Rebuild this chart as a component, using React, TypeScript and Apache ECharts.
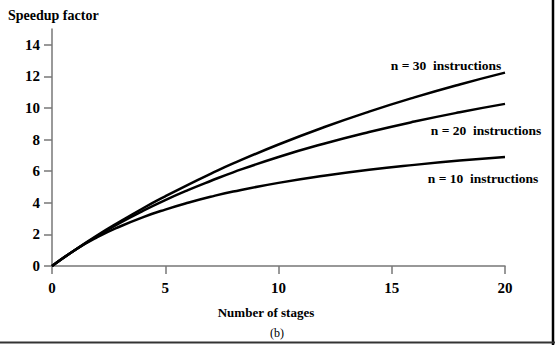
import React, { useEffect, useRef } from "react";
import * as echarts from "echarts";

const stages = [0, 1, 2, 3, 4, 5, 6, 7, 8, 10, 12, 14, 16, 18, 20];
const speedupN10 = [0, 1, 1.82, 2.5, 3.08, 3.57, 4.0, 4.38, 4.71, 5.26, 5.71, 6.09, 6.4, 6.67, 6.9];
const speedupN20 = [0, 1, 1.9, 2.73, 3.48, 4.17, 4.8, 5.38, 5.93, 6.9, 7.74, 8.48, 9.14, 9.73, 10.26];
const speedupN30 = [0, 1, 1.94, 2.81, 3.64, 4.41, 5.14, 5.83, 6.49, 7.69, 8.78, 9.77, 10.67, 11.49, 12.24];
const yTicks = [0, 2, 4, 6, 8, 10, 12, 14];
const xTicks = [0, 5, 10, 15, 20];
const seriesNames = ["n = 10  instructions", "n = 20  instructions", "n = 30  instructions"];

const FONT = "'Liberation Serif', 'DejaVu Serif', serif";

export default function App() {
  const ref = useRef<HTMLDivElement>(null);
  useEffect(() => {
    if (!ref.current) return;
    const chart = echarts.init(ref.current, null, { renderer: "svg" });
    const mk = (vals: number[], name: string) => ({
      type: "line",
      name,
      data: stages.map((s, i) => [s, vals[i]]),
      smooth: true,
      showSymbol: false,
      lineStyle: { color: "#000", width: 2.5 },
    });
    chart.setOption({
      animation: false,
      backgroundColor: "#fff",
      grid: { left: 52, right: 50, top: 29, bottom: 79 },
      xAxis: {
        type: "value",
        min: 0,
        max: 20,
        interval: 5,
        axisLine: { lineStyle: { color: "#777", width: 1.5 } },
        axisTick: { show: true, length: 8, inside: false, lineStyle: { color: "#777", width: 1.5 } },
        axisLabel: {
          margin: 14,
          fontFamily: FONT,
          fontWeight: "bold",
          fontSize: 15,
          color: "#000",
          customValues: xTicks,
        },
        splitLine: { show: false },
      },
      yAxis: {
        type: "value",
        min: 0,
        max: 15,
        axisLine: { show: true, lineStyle: { color: "#777", width: 1.5 } },
        axisTick: { show: true, length: 8, inside: false, lineStyle: { color: "#777", width: 1.5 }, customValues: yTicks },
        axisLabel: {
          margin: 12,
          fontFamily: FONT,
          fontWeight: "bold",
          fontSize: 15,
          color: "#000",
          customValues: yTicks,
        },
        splitLine: { show: false },
      },
      series: [mk(speedupN10, seriesNames[0]), mk(speedupN20, seriesNames[1]), mk(speedupN30, seriesNames[2])],
      graphic: [
        { type: "text", left: 8, top: 8, style: { text: "Speedup factor", font: `bold 14px ${FONT}`, fill: "#000" } },
        { type: "text", x: 266, y: 312, style: { text: "Number of stages", font: `bold 13px ${FONT}`, fill: "#000", align: "center", verticalAlign: "middle" } },
        { type: "text", x: 277, y: 333, style: { text: "(b)", font: `12px ${FONT}`, fill: "#000", align: "center", verticalAlign: "middle" } },
        { type: "text", x: 446, y: 65, style: { text: seriesNames[2], font: `bold 13.5px ${FONT}`, fill: "#000", align: "center", verticalAlign: "middle" } },
        { type: "text", x: 486, y: 130, style: { text: seriesNames[1], font: `bold 13.5px ${FONT}`, fill: "#000", align: "center", verticalAlign: "middle" } },
        { type: "text", x: 483, y: 178, style: { text: seriesNames[0], font: `bold 13.5px ${FONT}`, fill: "#000", align: "center", verticalAlign: "middle" } },
        { type: "line", shape: { x1: 553, y1: 0, x2: 553, y2: 345 }, style: { stroke: "#000", lineWidth: 2.5 } },
        { type: "line", shape: { x1: 0, y1: 342.5, x2: 555, y2: 342.5 }, style: { stroke: "#333", lineWidth: 2 } },
      ],
    });
    return () => chart.dispose();
  }, []);
  return <div ref={ref} style={{ position: "fixed", left: 0, top: 0, width: 555, height: 345 }} />;
}
